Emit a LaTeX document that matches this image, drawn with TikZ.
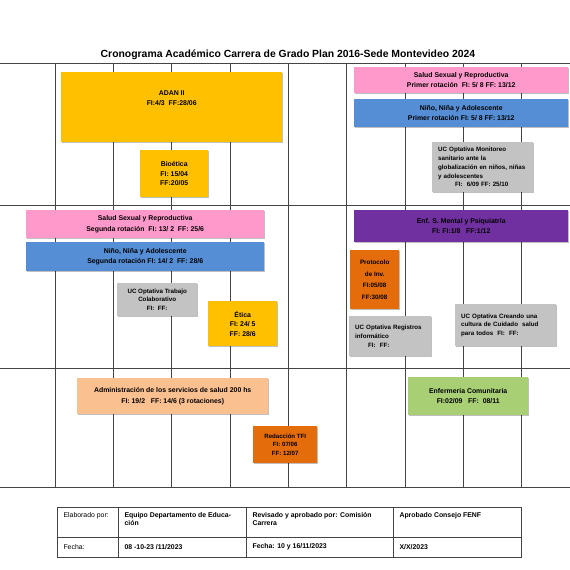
\documentclass[tikz,border=0pt]{standalone}
\usepackage{fontspec}
\setmainfont{Liberation Sans}
\usetikzlibrary{shadows}

\definecolor{oro}{HTML}{FFC000}
\definecolor{rosa}{HTML}{FF99CC}
\definecolor{azul}{HTML}{558ED5}
\definecolor{gris}{HTML}{C3C3C3}
\definecolor{violeta}{HTML}{7030A0}
\definecolor{naranja}{HTML}{E46C0A}
\definecolor{durazno}{HTML}{FAC090}
\definecolor{verde}{HTML}{A9CF74}
\definecolor{reja}{HTML}{444444}

\begin{document}
\begin{tikzpicture}[
    x=1pt, y=-1pt,
    linea/.style={draw=reja, line width=0.8pt},
    bloque/.style={anchor=north west, inner sep=1pt, align=center, text=black,
        font=\fontsize{6.9}{10.5}\selectfont\bfseries,
        drop shadow={shadow xshift=1pt, shadow yshift=-1pt, opacity=0.25, fill=black}},
    optativa/.style={bloque, fill=gris, align=left, inner xsep=6pt,
        font=\fontsize{6.2}{8.7}\selectfont\bfseries},
    celda/.style={anchor=west, align=left, font=\fontsize{6.9}{7.8}\selectfont}
]
    \useasboundingbox (0,0) rectangle (570,570);

    % Title
    \node[font=\fontsize{10.4}{12}\selectfont\bfseries] (titulo) at (288,55)
        {Cronograma Académico Carrera de Grado Plan 2016-Sede Montevideo 2024};

    % Grid
    \foreach \y in {63,205,368,487}
        \draw[linea] (0,\y) -- (570,\y);
    \foreach \x in {55,113.3,171.7,230,288.3,346.7,405,463.3,521.7}
        \draw[linea] (\x,63) -- (\x,487);

    % First row
    \node[bloque, fill=oro, minimum width=221, minimum height=70] (adan) at (61,72)
        {ADAN II\\FI:4/3\ \ FF:28/06\\[8pt]};
    \node[bloque, fill=oro, minimum width=68, minimum height=47,
        font=\fontsize{6.9}{9.5}\selectfont\bfseries] (bioetica) at (140,150)
        {Bioética\\FI: 15/04\\FF:20/05};
    \node[bloque, fill=rosa, minimum width=214, minimum height=26] (salud1) at (354,67)
        {Salud Sexual y Reproductiva\\Primer rotación\ \ FI: 5/ 8 FF: 13/12};
    \node[bloque, fill=azul, minimum width=214, minimum height=28] (nino1) at (354,99)
        {Niño, Niña y Adolescente\\Primer rotación FI: 5/ 8 FF: 13/12};
    \node[optativa, text width=89, minimum height=50] (monitoreo) at (432,142)
        {UC Optativa Monitoreo\\sanitario ante la\\globalización en niños, niñas\\y adolescentes\\\hspace*{17pt}FI:\ \ 6/09 FF: 25/10};

    % Second row
    \node[bloque, fill=rosa, minimum width=238, minimum height=28] (salud2) at (26,210)
        {Salud Sexual y Reproductiva\\Segunda rotación\ \ FI: 13/ 2\ \ FF: 25/6};
    \node[bloque, fill=azul, minimum width=238, minimum height=29] (nino2) at (26,242)
        {Niño, Niña y Adolescente\\Segunda rotación FI: 14/ 2\ \ FF: 28/6};
    \node[bloque, fill=gris, minimum width=80, minimum height=33,
        font=\fontsize{6.2}{8.7}\selectfont\bfseries] (trabajo) at (117,283)
        {UC Optativa Trabajo\\Colaborativo\\FI:\ \ FF:};
    \node[bloque, fill=oro, minimum width=69, minimum height=45,
        font=\fontsize{6.9}{9.5}\selectfont\bfseries] (etica) at (208,301)
        {Ética\\FI: 24/ 5\\FF: 28/6};
    \node[bloque, fill=violeta, minimum width=214, minimum height=32] (mental) at (354,210)
        {Enf. S. Mental y Psiquiatría\\FI: FI:1/8\ \ \ FF:1/12};
    \node[bloque, fill=naranja, minimum width=49, minimum height=59,
        font=\fontsize{6.3}{11.5}\selectfont\bfseries] (protocolo) at (350,250)
        {Protocolo\\de Inv.\\FI:05/08\\FF:30/08};
    \node[optativa, text width=70, minimum height=40] (registros) at (349,316)
        {UC Optativa Registros\\informático\\\hspace*{13pt}FI:\ \ FF:};
    \node[optativa, text width=89, minimum height=42] (creando) at (455,304)
        {UC Optativa Creando una\\cultura de Cuidado\ \ salud\\para todos\ \ FI:\ \ FF:};

    % Third row
    \node[bloque, fill=durazno, minimum width=191, minimum height=36] (admin) at (77,378)
        {Administración de los servicios de salud 200 hs\\FI: 19/2\ \ \ FF: 14/6 (3 rotaciones)};
    \node[bloque, fill=naranja, minimum width=64, minimum height=37,
        font=\fontsize{6.1}{8.2}\selectfont\bfseries] (tfi) at (253,426)
        {Redacción TFI\\FI: 07/06\\FF: 12/07};
    \node[bloque, fill=verde, minimum width=120, minimum height=38] (comunitaria) at (408,377)
        {Enfermeria Comunitaria\\FI:02/09\ \ \ FF:\ \ 08/11};

    % Footer table
    \draw[reja, line width=0.6pt] (57,507) rectangle (521,557);
    \draw[reja, line width=0.6pt] (57,537) -- (521,537);
    \foreach \x in {118,246,393}
        \draw[reja, line width=0.6pt] (\x,507) -- (\x,557);
    \node[celda] (elaborado) at (60,516) {Elaborado por:};
    \node[celda, font=\fontsize{6.9}{7.8}\selectfont\bfseries] (equipo) at (121,519) {Equipo Departamento de Educa-\\ción};
    \node[celda, font=\fontsize{6.9}{7.8}\selectfont\bfseries] (revisado) at (249,519) {Revisado y aprobado por: Comisión\\Carrera};
    \node[celda, font=\fontsize{6.9}{7.8}\selectfont\bfseries] (consejo) at (396,516) {Aprobado Consejo FENF};
    \node[celda] (fecha) at (60,547) {Fecha:};
    \node[celda, font=\fontsize{6.9}{7.8}\selectfont\bfseries] (fecha1) at (121,547) {08 -10-23 /11/2023};
    \node[celda, font=\fontsize{6.9}{7.8}\selectfont\bfseries] (fecha2) at (249,547) {Fecha: 10 y 16/11/2023};
    \node[celda, font=\fontsize{6.9}{7.8}\selectfont\bfseries] (fecha3) at (396,547) {X/X/2023};
\end{tikzpicture}
\end{document}
